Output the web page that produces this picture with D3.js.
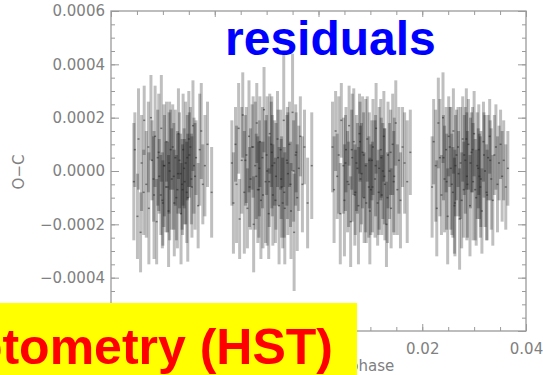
<!DOCTYPE html>
<html lang="en">
<head>
    <meta charset="UTF-8">
    <title>residuals</title>
    <script src="https://d3js.org/d3.v7.min.js"></script>
    <style>
        body { margin: 0; background: #fff; }
        svg { display: block; }
    </style>
</head>
<body>
<script type="text/javascript">
var widthOfTotalDisplay = 543;
var heightOfTotalDisplay = 375;

// orbital phase of each timing point, four HST visits
var phase = [
  // visit 1
  -0.0356,-0.0354,-0.0349,-0.0347,-0.0343,-0.0341,-0.0337,-0.0336,-0.0332,-0.0328,
  -0.0327,-0.0323,-0.0321,-0.0317,-0.0315,-0.0312,-0.0308,-0.0307,-0.0303,-0.0301,
  -0.0298,-0.0294,-0.0293,-0.0289,-0.0287,-0.0283,-0.0281,-0.0278,-0.0276,-0.0272,
  -0.0270,-0.0266,-0.0265,-0.0261,-0.0258,-0.0256,-0.0252,-0.0250,-0.0247,-0.0244,
  -0.0242,-0.0238,-0.0236,-0.0232,-0.0229,-0.0226,-0.0223,-0.0219,-0.0214,-0.0206,
  -0.0318,-0.0310,-0.0304,-0.0297,-0.0291,-0.0285,-0.0279,-0.0274,-0.0268,-0.0263,
  -0.0259,-0.0254,-0.0249,-0.0245,-0.0240,-0.0300,-0.0288,-0.0271,-0.0262,-0.0253,
  // visit 2
  -0.0167,-0.0164,-0.0160,-0.0158,-0.0154,-0.0152,-0.0148,-0.0146,-0.0143,-0.0139,
  -0.0137,-0.0134,-0.0131,-0.0128,-0.0125,-0.0122,-0.0119,-0.0117,-0.0113,-0.0111,
  -0.0108,-0.0105,-0.0102,-0.0099,-0.0096,-0.0094,-0.0090,-0.0088,-0.0085,-0.0082,
  -0.0079,-0.0076,-0.0073,-0.0071,-0.0067,-0.0065,-0.0061,-0.0059,-0.0056,-0.0053,
  -0.0050,-0.0047,-0.0044,-0.0041,-0.0038,-0.0035,-0.0031,-0.0027,-0.0021,-0.0013,
  -0.0141,-0.0133,-0.0126,-0.0120,-0.0114,-0.0107,-0.0100,-0.0095,-0.0089,-0.0083,
  -0.0078,-0.0072,-0.0066,-0.0060,-0.0054,-0.0048,-0.0043,-0.0115,-0.0091,-0.0069,
  // visit 3
  0.0027,0.0030,0.0033,0.0036,0.0039,0.0042,0.0044,0.0048,0.0050,0.0053,
  0.0056,0.0059,0.0062,0.0065,0.0068,0.0071,0.0073,0.0077,0.0079,0.0083,
  0.0085,0.0088,0.0091,0.0094,0.0097,0.0099,0.0103,0.0105,0.0109,0.0111,
  0.0114,0.0117,0.0120,0.0122,0.0126,0.0128,0.0131,0.0134,0.0137,0.0140,
  0.0143,0.0146,0.0149,0.0152,0.0155,0.0158,0.0162,0.0166,0.0171,0.0177,
  0.0052,0.0058,0.0064,0.0070,0.0075,0.0081,0.0087,0.0092,0.0098,0.0104,
  0.0110,0.0116,0.0121,0.0127,0.0133,0.0139,0.0145,0.0080,0.0101,0.0124,
  // visit 4
  0.0219,0.0222,0.0226,0.0228,0.0231,0.0234,0.0237,0.0240,0.0243,0.0246,
  0.0249,0.0251,0.0255,0.0257,0.0260,0.0263,0.0266,0.0269,0.0272,0.0274,
  0.0278,0.0280,0.0283,0.0286,0.0289,0.0292,0.0295,0.0298,0.0300,0.0304,
  0.0306,0.0309,0.0312,0.0315,0.0318,0.0321,0.0324,0.0327,0.0330,0.0333,
  0.0336,0.0339,0.0342,0.0345,0.0348,0.0351,0.0354,0.0357,0.0361,0.0365,
  0.0241,0.0247,0.0253,0.0259,0.0264,0.0270,0.0276,0.0281,0.0287,0.0293,
  0.0297,0.0302,0.0308,0.0313,0.0319,0.0325,0.0331,0.0262,0.0285,0.0310
];

// O-C residual, in units of 1e-4
var oc = [
  -0.4, 0.8,-1.7, 1.2,-2.3, 0.3,-0.8, 1.9,-0.5, 0.9,
  -1.4, 2.0, 0.4,-0.9, 1.3,-1.9, 0.7,-0.2, 1.6,-1.1,
   0.2,-0.6, 1.1,-1.5, 0.0,-0.3, 0.9,-1.2, 0.5,-0.7,
   1.4,-0.1,-1.6, 0.8,-0.4, 0.3,-1.0, 1.2, 0.9,-0.6,
   1.7,-0.2, 0.5,-1.3, 0.8, 1.5,-0.5, 0.2, 1.0,-0.8,
  -0.3, 0.5,-0.9, 0.2,-0.6, 0.8,-0.2,-1.0, 0.4,-0.5,
   0.1,-0.8, 0.6,-0.3, 0.2,-1.2, 0.3,-0.1,-0.7, 0.5,

   0.3,-1.2, 1.0,-0.5, 1.6,-1.8, 0.4, 2.1,-0.8, 0.6,
  -1.4, 1.3,-0.3, 0.9,-2.0, 0.2, 1.8,-0.7, 1.1,-1.1,
   0.5, 2.3,-0.4, 0.0,-1.6, 1.4, 0.7,-0.9, 0.3,-0.2,
   1.2,-1.3, 0.8,-0.6, 1.9,-1.4, 0.4,-0.1, 1.0,-1.5,
   2.2,-2.3, 0.6,-1.0, 0.1, 1.3,-0.5, 0.9,-1.2, 0.2,
   0.4,-0.6, 0.9,-0.2, 0.1,-0.9, 0.6,-0.4, 0.2,-1.1,
   0.5,-0.3,-0.8, 0.3,-0.5, 0.0, 0.7,-0.7, 1.0,-1.2,

   0.9,-0.7, 1.5,-0.2, 0.6,-1.6, 1.9, 0.2,-1.1, 0.8,
  -0.4, 1.7,-1.9, 0.5, 1.1,-0.8, 0.3,-1.3, 1.4,-0.1,
   0.7,-1.0, 0.2, 1.2,-0.6,-1.5, 0.4, 0.9,-0.3, 1.6,
  -1.2, 0.1, 0.8,-0.9, 1.3,-0.5,-2.0, 0.6, 0.0,-1.4,
   1.0,-0.2, 1.8,-0.7, 0.4,-1.1, 0.9, 0.3,-0.4, 0.7,
   0.3,-0.5, 0.8,-0.9, 0.1,-0.3, 0.6,-1.2, 0.4,-0.6,
   0.2,-0.8, 0.5,-0.2,-1.0, 0.7,-0.4, 1.1,-0.7, 0.0,

  -0.6, 1.1, 0.2,-1.4, 1.8, 0.5,-0.9, 2.0,-0.3, 0.8,
  -1.7, 1.3, 0.1,-0.5, 1.5,-1.2, 0.6, 0.9,-1.8, 0.3,
   1.2,-0.7, 0.4,-0.2, 1.0,-1.3, 0.7,-0.4, 1.4,-1.0,
   0.2, 0.8,-0.6,-1.5, 1.1, 0.0,-0.8, 0.5, 1.3,-0.3,
  -1.1, 0.6, 0.9,-0.5, 0.3, 1.0,-0.2, 0.4,-0.6, 0.1,
   0.5,-0.4, 0.9,-0.8, 0.2,-0.1,-1.1, 0.6,-0.5, 0.3,
   0.8,-0.7, 0.1,-0.3, 0.6,-0.9, 0.4,-1.3, 1.2,-0.2
];

// 1-sigma error, in units of 1e-4
var err = [
  2.2,1.4,1.6,1.9,1.5,1.8,1.6,1.3,2.0,1.7,
  2.1,1.6,1.5,2.4,1.9,1.6,2.2,1.4,2.0,1.8,
  2.3,1.7,1.5,2.1,2.6,1.9,1.6,2.0,1.8,2.2,
  1.7,1.5,1.9,2.1,1.6,2.3,2.4,1.8,1.5,1.9,
  1.7,2.0,1.4,1.6,2.1,1.8,1.5,1.9,1.6,1.7,
  1.6,1.8,1.5,1.9,1.7,1.5,2.0,1.6,1.8,1.7,
  1.5,1.9,1.6,1.7,1.8,1.6,1.9,1.5,1.7,1.6,

  1.6,1.9,1.4,2.2,1.7,1.5,2.0,1.6,2.3,1.8,
  1.5,2.1,1.9,1.6,1.8,2.4,1.5,2.0,1.7,2.2,
  1.9,1.6,2.3,2.8,1.7,1.5,2.1,1.9,1.6,2.0,
  1.8,2.2,1.5,1.9,2.5,2.1,1.7,2.3,1.6,1.8,
  2.2,2.2,1.9,2.0,1.6,1.5,1.8,1.4,1.7,2.0,
  1.7,1.5,1.9,1.6,1.8,2.0,1.5,1.7,1.9,1.6,
  1.8,1.5,1.7,2.1,1.6,1.9,1.5,1.8,1.6,1.7,

  1.7,2.0,1.5,1.6,2.2,1.9,1.4,1.8,2.1,1.6,
  1.9,1.5,1.7,2.4,2.0,1.6,1.8,2.2,1.5,1.9,
  2.1,1.7,2.5,1.6,1.9,2.0,1.5,1.8,2.2,1.7,
  1.6,2.3,1.9,1.5,1.7,2.1,1.6,2.0,1.8,1.5,
  1.9,2.2,1.6,1.7,2.0,1.8,1.5,1.9,2.3,1.6,
  1.8,1.6,1.5,1.9,1.7,2.0,1.6,1.5,1.8,1.7,
  1.9,1.6,1.5,1.8,1.7,1.6,1.9,1.5,1.7,1.8,

  1.9,1.6,2.1,1.8,1.7,2.2,1.5,1.7,2.0,1.6,
  1.8,1.5,2.3,1.9,1.6,2.0,1.7,1.5,1.9,2.1,
  1.6,1.8,2.0,2.4,1.7,1.9,1.5,2.2,1.6,1.8,
  2.0,1.7,1.9,1.6,1.5,2.1,1.8,1.6,1.4,1.9,
  1.7,1.5,1.6,1.8,1.4,1.3,1.7,1.5,1.6,1.4,
  1.6,1.8,1.5,1.7,1.9,1.6,1.8,1.5,2.0,1.7,
  1.6,1.9,1.5,1.8,1.6,1.7,1.5,1.8,1.9,1.6
];

var xMajorTicks = [-0.04, -0.02, 0.00, 0.02, 0.04];
var yMajorTicks = [-6, -4, -2, 0, 2, 4, 6];
var titleText = "residuals";
var bannerText = "Photometry (HST)";

var frame = {left: 111, right: 526, top: 11, bottom: 331};

var points = phase.map(function (p, i) {
    return {phase: p, oc: oc[i], err: err[i]};
});

var x = d3.scaleLinear()
        .domain([-0.04, 0.04])
        .range([frame.left, frame.right]);

var y = d3.scaleLinear()
        .domain([-6, 6])
        .range([frame.bottom, frame.top]);

var svg = d3.select("body").append("svg")
          .attr("width", widthOfTotalDisplay)
          .attr("height", heightOfTotalDisplay)
          .style("font-family", "'DejaVu Sans', sans-serif");

var axisColor = "#9a9a9a";
var textColor = "#808080";

var yFormat = function (d) { return d3.format(".4f")(d * 1e-4); };
var xFormat = d3.format(".2f");

var xMinor = d3.range(-0.04, 0.0401, 0.005);
var yMinor = d3.range(-6, 6.01, 0.5);

function styleAxis(g) {
    g.select(".domain").remove();
    g.selectAll("line").attr("stroke", axisColor);
    g.selectAll("text")
        .attr("fill", textColor)
        .style("font-size", "15px")
        .style("font-family", "'DejaVu Sans', sans-serif");
}

// left axis with labels
svg.append("g")
    .attr("transform", "translate(" + frame.left + ",0)")
    .call(d3.axisLeft(y).tickValues(yMinor).tickSize(-4).tickFormat(""))
    .call(styleAxis);
svg.append("g")
    .attr("transform", "translate(" + frame.left + ",0)")
    .call(d3.axisLeft(y).tickValues(yMajorTicks).tickSize(-8).tickPadding(6).tickFormat(yFormat))
    .call(styleAxis);

// right axis, ticks only
svg.append("g")
    .attr("transform", "translate(" + frame.right + ",0)")
    .call(d3.axisRight(y).tickValues(yMinor).tickSize(-4).tickFormat(""))
    .call(styleAxis);
svg.append("g")
    .attr("transform", "translate(" + frame.right + ",0)")
    .call(d3.axisRight(y).tickValues(yMajorTicks).tickSize(-8).tickFormat(""))
    .call(styleAxis);

// bottom axis with labels (the left ones sit under the banner)
svg.append("g")
    .attr("transform", "translate(0," + frame.bottom + ")")
    .call(d3.axisBottom(x).tickValues(xMinor).tickSize(-4).tickFormat(""))
    .call(styleAxis);
svg.append("g")
    .attr("transform", "translate(0," + frame.bottom + ")")
    .call(d3.axisBottom(x).tickValues(xMajorTicks).tickSize(-7).tickPadding(12).tickFormat(xFormat))
    .call(styleAxis);

// top axis, ticks only
svg.append("g")
    .attr("transform", "translate(0," + frame.top + ")")
    .call(d3.axisTop(x).tickValues(xMinor).tickSize(-4).tickFormat(""))
    .call(styleAxis);
svg.append("g")
    .attr("transform", "translate(0," + frame.top + ")")
    .call(d3.axisTop(x).tickValues(xMajorTicks).tickSize(-6).tickFormat(""))
    .call(styleAxis);

// frame
svg.append("rect")
    .attr("x", frame.left)
    .attr("y", frame.top)
    .attr("width", frame.right - frame.left)
    .attr("height", frame.bottom - frame.top)
    .attr("fill", "none")
    .attr("stroke", axisColor)
    .attr("stroke-width", 1.3);

// error bars
var bars = svg.append("g").classed("errorbars", true);
bars.selectAll("line")
    .data(points)
    .enter()
    .append("line")
    .attr("x1", function (d) { return x(d.phase); })
    .attr("x2", function (d) { return x(d.phase); })
    .attr("y1", function (d) { return y(d.oc + d.err); })
    .attr("y2", function (d) { return y(d.oc - d.err); })
    .attr("stroke", "#000")
    .attr("stroke-opacity", 0.25)
    .attr("stroke-width", 3);

bars.selectAll("rect")
    .data(points)
    .enter()
    .append("rect")
    .attr("x", function (d) { return x(d.phase) - 1; })
    .attr("y", function (d) { return y(d.oc) - 0.75; })
    .attr("width", 2)
    .attr("height", 1.5)
    .attr("fill", "#222")
    .attr("fill-opacity", 0.5);

// axis titles
svg.append("text")
    .attr("transform", "translate(24,172) rotate(-90)")
    .attr("text-anchor", "middle")
    .attr("fill", textColor)
    .style("font-size", "15px")
    .text("O\u2212C");

svg.append("text")
    .attr("x", 349)
    .attr("y", 371)
    .attr("fill", textColor)
    .style("font-size", "15px")
    .text("phase");

// overlay labels
svg.append("text")
    .attr("x", 225)
    .attr("y", 55)
    .attr("fill", "#0000ff")
    .style("font-family", "'Liberation Sans', Arial, sans-serif")
    .style("font-weight", "bold")
    .style("font-size", "48px")
    .text(titleText);

svg.append("rect")
    .attr("x", 0)
    .attr("y", 303)
    .attr("width", 357)
    .attr("height", 72)
    .attr("fill", "#ffff00");

svg.append("text")
    .attr("x", 333)
    .attr("y", 364)
    .attr("text-anchor", "end")
    .attr("fill", "#ff0000")
    .style("font-family", "'Liberation Sans', Arial, sans-serif")
    .style("font-weight", "bold")
    .style("font-size", "50px")
    .text(bannerText);
</script>
</body>
</html>
